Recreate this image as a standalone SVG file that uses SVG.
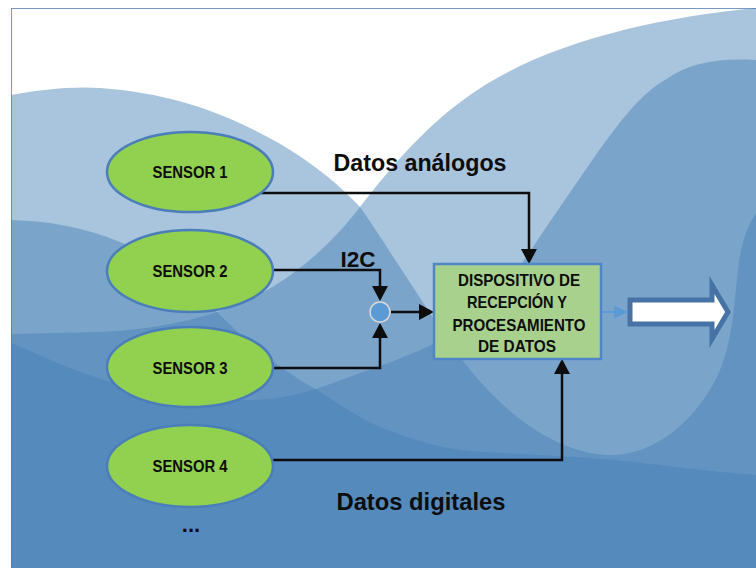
<svg xmlns="http://www.w3.org/2000/svg" width="756" height="568" viewBox="0 0 756 568">
<defs>
<clipPath id="frame"><rect x="11" y="8" width="745" height="560"/></clipPath>
<marker id="ah" markerUnits="userSpaceOnUse" markerWidth="15" markerHeight="16" refX="11" refY="8" orient="auto"><path d="M0,0 L15,8 L0,16 Z" fill="#0d0d0d"/></marker>
<marker id="ahb" markerUnits="userSpaceOnUse" markerWidth="14" markerHeight="13" refX="10" refY="6.5" orient="auto"><path d="M0,0 L14,6.5 L0,13 Z" fill="#5b9bd5"/></marker>
</defs>
<style>
.wave{fill:rgb(70,128,182);fill-opacity:0.465}
.sensor{fill:#92d050;stroke:#4a7ebb;stroke-width:2.5}
.st{font-family:"Liberation Sans",Arial,sans-serif;font-weight:bold;font-size:16.5px;fill:#0d0d0d;text-anchor:middle}
.bt{font-family:"Liberation Sans",Arial,sans-serif;font-weight:bold;font-size:16.5px;fill:#0d0d0d;text-anchor:middle}
.lbl{font-family:"Liberation Sans",Arial,sans-serif;font-weight:bold;font-size:24px;fill:#0d0d0d;text-anchor:middle}
.conn{fill:none;stroke:#0d0d0d;stroke-width:2.5}
</style>
<rect x="0" y="0" width="756" height="568" fill="#ffffff"/>
<g id="background" clip-path="url(#frame)">
<path class="wave" d="M11,95 C40,90 70,86 100,88 C160,92 210,108 250,128 C300,152 335,180 360,207 C380,235 420,300 460,357 C500,410 550,450 605,455 C660,458 705,410 722,365 C735,330 735,285 740,255 C744,235 750,222 756,213 L756,568 L11,568 Z"/>
<path class="wave" d="M756,8 C650,18 540,45 470,95 C420,130 385,175 360,207 C335,240 300,272 267,290 C235,310 170,330 96,332 L11,334 L11,568 L756,568 Z"/>
<path class="wave" d="M11,220 C50,221 85,228 115,240 C160,258 195,290 217,312 C245,340 280,370 317,390 C345,408 370,425 393,432 C420,442 440,448 470,451 C530,455 600,457 650,464 C700,470 730,473 756,475 L756,568 L11,568 Z"/>
<path class="wave" d="M756,60 C720,58 690,62 665,80 C630,100 600,150 560,207 C530,250 495,310 460,330 C440,342 400,360 360,373 C320,388 290,400 250,400 C200,400 150,395 110,382 C70,370 40,355 11,343 L11,568 L756,568 Z"/>
<path d="M11,568 V8 H756" fill="none" stroke="#4a7ab0" stroke-width="1.5"/>
</g>
<g id="connectors">
<path class="conn" d="M260,193 H529 V260" marker-end="url(#ah)"/>
<path class="conn" d="M273,270 H380 V297" marker-end="url(#ah)"/>
<path class="conn" d="M273,368 H380 V327" marker-end="url(#ah)"/>
<path class="conn" d="M391,312 H430" marker-end="url(#ah)"/>
<path class="conn" d="M272,460 H562 V363" marker-end="url(#ah)"/>
<path d="M602,312 H624" fill="none" stroke="#5b9bd5" stroke-width="2" marker-end="url(#ahb)"/>
</g>
<g id="sensor1"><ellipse class="sensor" cx="190" cy="172" rx="83" ry="40"/><text class="st" x="190" y="178" textLength="75" lengthAdjust="spacingAndGlyphs">SENSOR 1</text></g>
<g id="sensor2"><ellipse class="sensor" cx="190" cy="271" rx="83" ry="41"/><text class="st" x="190" y="277" textLength="75" lengthAdjust="spacingAndGlyphs">SENSOR 2</text></g>
<g id="sensor3"><ellipse class="sensor" cx="190" cy="367" rx="83" ry="40"/><text class="st" x="190" y="374" textLength="75" lengthAdjust="spacingAndGlyphs">SENSOR 3</text></g>
<g id="sensor4"><ellipse class="sensor" cx="190" cy="466" rx="83" ry="41"/><text class="st" x="190" y="472" textLength="75" lengthAdjust="spacingAndGlyphs">SENSOR 4</text></g>
<g id="more"><text class="lbl" x="191" y="532" style="font-size:22px">...</text></g>
<g id="junction"><circle cx="380" cy="312" r="10" fill="#5b9bd5" stroke="#d9d9d9" stroke-width="1.5"/></g>
<g id="device">
<rect x="434" y="264" width="167" height="95" fill="#a9d18e" stroke="#4f86c6" stroke-width="2.5"/>
<text class="bt" x="519" y="286" textLength="122" lengthAdjust="spacingAndGlyphs">DISPOSITIVO DE</text>
<text class="bt" x="517" y="308" textLength="100" lengthAdjust="spacingAndGlyphs">RECEPCIÓN Y</text>
<text class="bt" x="519" y="331" textLength="133" lengthAdjust="spacingAndGlyphs">PROCESAMIENTO</text>
<text class="bt" x="517" y="352" textLength="78" lengthAdjust="spacingAndGlyphs">DE DATOS</text>
</g>
<g id="output"><path d="M630,300 L712,300 L712,285 L728,312 L712,339 L712,324 L630,324 Z" fill="#ffffff" stroke="#4672a6" stroke-width="5" stroke-linejoin="miter"/></g>
<g id="labels">
<text class="lbl" x="420" y="171" textLength="173" lengthAdjust="spacingAndGlyphs">Datos análogos</text>
<text class="lbl" x="358" y="267" style="font-size:22px" textLength="35" lengthAdjust="spacingAndGlyphs">I2C</text>
<text class="lbl" x="421" y="510" textLength="169" lengthAdjust="spacingAndGlyphs">Datos digitales</text>
</g>
</svg>
